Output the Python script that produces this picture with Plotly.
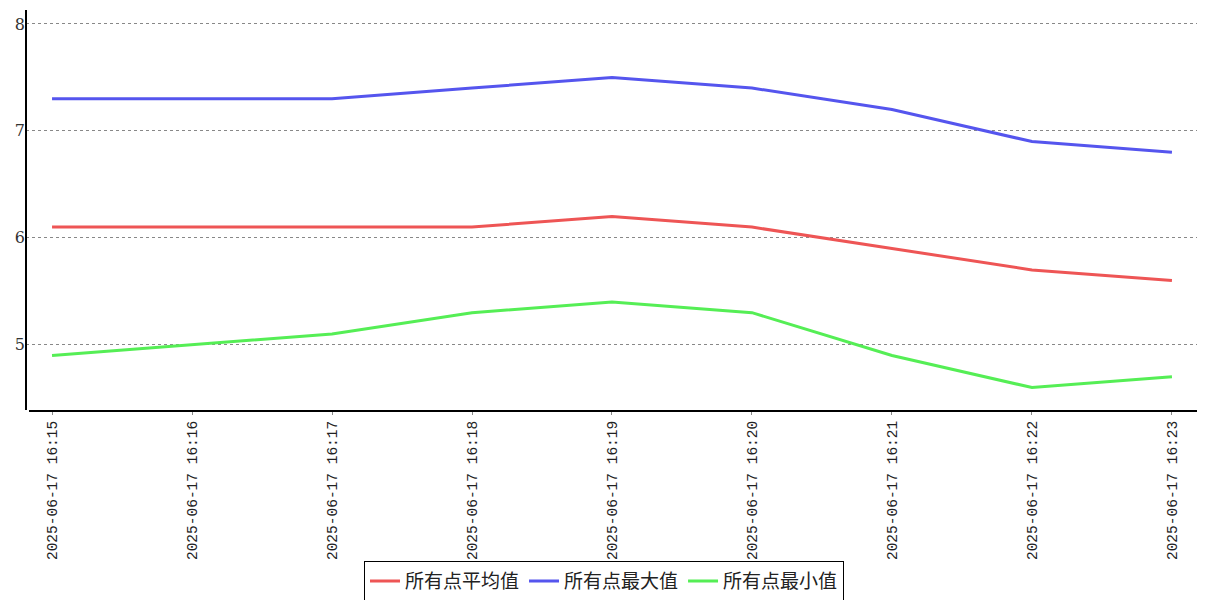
import plotly.graph_objects as go

# data
times = ['2025-06-17 16:15', '2025-06-17 16:16', '2025-06-17 16:17',
         '2025-06-17 16:18', '2025-06-17 16:19', '2025-06-17 16:20',
         '2025-06-17 16:21', '2025-06-17 16:22', '2025-06-17 16:23']
avg_vals = [6.1, 6.1, 6.1, 6.1, 6.2, 6.1, 5.9, 5.7, 5.6]
max_vals = [7.3, 7.3, 7.3, 7.4, 7.5, 7.4, 7.2, 6.9, 6.8]
min_vals = [4.9, 5.0, 5.1, 5.3, 5.4, 5.3, 4.9, 4.6, 4.7]

series = [
    ('所有点平均值', avg_vals, '#ee5555'),
    ('所有点最大值', max_vals, '#5555ee'),
    ('所有点最小值', min_vals, '#55ee55'),
]

fig = go.Figure()
for name, vals, color in series:
    fig.add_trace(go.Scatter(x=times, y=vals, name=name, mode='lines',
                             line=dict(color=color, width=3)))

# the page body keeps its default 8px margin, so the figure is 8px smaller
fig.update_layout(
    width=1199, height=592,
    margin=dict(l=18, r=10, t=2, b=190, autoexpand=False),
    plot_bgcolor='white', paper_bgcolor='white',
    font=dict(family='Liberation Mono, DejaVu Sans Mono', size=14, color='#222'),
    showlegend=True,
    legend=dict(orientation='h', x=0.4936, xanchor='center', y=-0.378, yanchor='top',
                bordercolor='black', borderwidth=1, bgcolor='white',
                font=dict(family='Noto Sans CJK SC', size=19, color='#222'),
                itemwidth=30, tracegroupgap=0),
)
fig.update_xaxes(type='category', range=[-0.186, 8.179], tickangle=-90, automargin=False,
                 showgrid=False, zeroline=False, showline=False,
                 ticks='outside', ticklen=4, tickcolor='#888',
                 tickfont=dict(family='Liberation Mono', size=14.5, color='#222'))
fig.update_yaxes(range=[4.39, 8.13], dtick=1, showgrid=True, gridcolor='#888', automargin=False,
                 griddash='dot', gridwidth=1, zeroline=False, showline=False,
                 ticks='', tickfont=dict(family='DejaVu Serif', size=16, color='#333'))

# axis lines (they do not meet in the reference)
fig.add_shape(type='line', xref='paper', yref='paper', x0=0, x1=0, y0=0.0, y1=1,
              line=dict(color='black', width=2))
fig.add_shape(type='line', xref='paper', yref='paper', x0=3/1171, x1=1, y0=-0.0025, y1=-0.0025,
              line=dict(color='black', width=2))

fig.write_html('out.html')
